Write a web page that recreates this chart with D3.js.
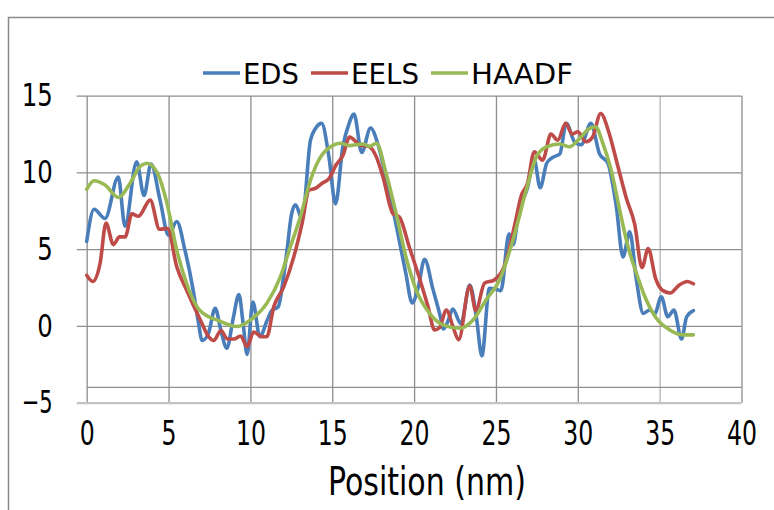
<!DOCTYPE html>
<html>
<head>
<meta charset="utf-8">
<script src="https://cdn.jsdelivr.net/npm/d3@7"></script>
<style>
  html, body { margin: 0; padding: 0; background: #fff; }
  svg { display: block; }
  .tick text { font-family: "Liberation Sans Narrow", "DejaVu Sans Condensed", sans-serif; fill: #000; }
</style>
</head>
<body>
<svg id="chart" width="774" height="510"></svg>
<script>
// x ticks / y ticks
const xTicks = [0, 5, 10, 15, 20, 25, 30, 35, 40];
const yTicks = [-5, 0, 5, 10, 15];

// EDS (blue)
const edsX = [0, 0.45, 1.12, 1.93, 2.34, 3.05, 3.5, 3.93, 4.48, 5.0, 5.5, 6.0, 6.5, 6.8, 7.05, 7.43, 7.85, 8.2, 8.56, 8.95, 9.3, 9.55, 9.8, 10.15, 10.58, 11.0, 11.3, 11.7, 12.0, 12.24, 12.5, 12.75, 13.16, 13.67, 14.0, 14.35, 14.8, 15.2, 15.65, 16.0, 16.33, 16.8, 17.34, 17.8, 18.3, 18.9, 19.5, 19.88, 20.25, 20.64, 21.15, 21.56, 21.8, 22.1, 22.36, 22.86, 23.4, 23.8, 24.14, 24.6, 25.0, 25.3, 25.8, 26.05, 26.4, 26.9, 27.34, 27.7, 28.1, 28.5, 28.9, 29.3, 29.8, 30.2, 30.8, 31.33, 31.84, 32.35, 32.76, 33.17, 33.58, 34.0, 34.4, 34.7, 35.1, 35.5, 35.87, 36.34, 36.65, 37.06];
const edsY = [5.5, 7.6, 7.0, 9.7, 6.5, 10.7, 8.5, 10.55, 8.2, 5.9, 6.8, 4.95, 2.35, 0.4, -0.95, -0.5, 1.15, -0.3, -1.45, 0.5, 2.05, 0.2, -1.85, 1.55, -0.7, 0.3, 1.0, 1.25, 3.0, 4.95, 7.2, 7.9, 7.0, 12.1, 12.9, 13.2, 11.0, 7.95, 11.7, 13.1, 13.8, 11.3, 12.9, 11.8, 9.6, 6.6, 3.4, 1.5, 2.5, 4.35, 2.4, 0.8, -0.2, 0.4, 1.1, 0.15, 2.67, 0.6, -1.95, 2.45, 2.4, 2.3, 6.0, 5.3, 7.5, 8.9, 10.8, 9.0, 10.6, 11.0, 11.2, 13.2, 12.0, 11.8, 13.2, 11.2, 10.6, 7.8, 4.5, 6.14, 3.0, 0.82, 1.04, 0.8, 1.9, 0.6, 1.04, -0.85, 0.6, 1.0];

// EELS (red)
const eelsX = [0, 0.37, 0.82, 1.18, 1.63, 2.0, 2.35, 2.76, 3.16, 3.88, 4.45, 4.94, 5.5, 6.1, 6.94, 7.45, 7.76, 8.2, 8.6, 9.0, 9.4, 9.8, 10.2, 10.7, 11.0, 11.43, 12.04, 12.65, 13.16, 13.58, 13.97, 14.38, 14.8, 15.24, 15.65, 16.06, 16.67, 17.28, 17.7, 18.1, 18.7, 19.1, 19.7, 20.3, 20.85, 21.25, 21.56, 21.97, 22.37, 22.72, 23.4, 23.77, 24.3, 24.9, 25.5, 26.15, 26.55, 26.93, 27.34, 27.85, 28.36, 28.77, 29.26, 29.65, 30.0, 30.5, 30.9, 31.4, 31.9, 32.4, 32.97, 33.48, 33.92, 34.3, 34.75, 35.2, 35.65, 36.2, 36.7, 37.06];
const eelsY = [3.3, 2.9, 4.1, 6.7, 5.3, 5.8, 5.8, 7.3, 7.15, 8.2, 6.3, 6.35, 3.86, 2.34, 0.39, -0.7, -0.95, -0.3, -0.85, -0.85, -0.65, -1.35, -0.4, -0.7, -0.7, 1.26, 2.56, 4.5, 6.7, 8.85, 8.96, 9.3, 9.6, 10.5, 11.1, 12.3, 11.8, 11.67, 11.0, 9.7, 7.33, 7.1, 5.16, 3.2, 1.26, -0.26, -0.1, 1.04, -0.04, -0.9, 2.6, 1.0, 2.78, 3.0, 3.86, 6.6, 8.5, 9.3, 11.35, 10.8, 12.5, 12.1, 13.2, 12.5, 12.65, 12.0, 12.3, 13.84, 12.6, 10.6, 8.3, 6.6, 3.8, 5.05, 3.1, 2.3, 2.15, 2.67, 2.9, 2.75];

// HAADF (green)
const haadfX = [0, 0.45, 1.12, 1.94, 2.65, 3.27, 3.67, 4.3, 4.9, 5.5, 6.1, 6.73, 7.45, 7.96, 9.19, 10.0, 11.0, 11.83, 12.44, 13.05, 13.67, 14.28, 14.9, 15.5, 16.06, 16.87, 17.28, 17.7, 18.3, 18.9, 19.5, 20.13, 20.95, 21.76, 22.78, 23.6, 24.4, 25.22, 26.04, 26.85, 27.46, 28.08, 28.9, 29.49, 30.1, 30.7, 31.08, 31.53, 32.04, 32.56, 33.07, 33.58, 34.1, 34.8, 35.62, 36.44, 37.06];
const haadfY = [8.9, 9.46, 9.18, 8.37, 9.3, 10.4, 10.6, 10.0, 8.0, 4.95, 2.78, 1.26, 0.6, 0.39, -0.04, 0.39, 1.47, 3.2, 5.16, 7.1, 9.5, 11.0, 11.67, 11.9, 11.75, 11.85, 11.7, 11.9, 9.9, 7.33, 4.5, 2.34, 0.82, 0.07, -0.15, 0.39, 1.7, 3.0, 5.6, 8.85, 11.0, 11.67, 11.85, 11.67, 12.2, 12.86, 12.97, 11.9, 10.15, 7.55, 5.16, 3.43, 1.9, 0.5, -0.26, -0.58, -0.58];

const series = [
  { name: "EDS", xs: edsX, ys: edsY, color: "#4a7ebb" },
  { name: "EELS", xs: eelsX, ys: eelsY, color: "#be4b48" },
  { name: "HAADF", xs: haadfX, ys: haadfY, color: "#98b954" }
];

const FONT = "'Liberation Sans Narrow', 'DejaVu Sans Condensed', sans-serif";
const svg = d3.select("#chart");

// chart area border (runs off the right and bottom edges)
svg.append("rect").attr("x", 8.5).attr("y", 17.5).attr("width", 800).attr("height", 520)
  .attr("fill", "none").attr("stroke", "#8a8a8a").attr("stroke-width", 1.5);

const x = d3.scaleLinear().domain([0, 40]).range([86.7, 741.5]);
const y = d3.scaleLinear().domain([-5, 15]).range([402.7, 95.7]);

// vertical grid + x labels
const xAxis = svg.append("g").attr("transform", `translate(0,${y(-5)})`)
  .call(d3.axisBottom(x).tickValues(xTicks).tickSize(-(y(-5) - y(15))).tickSizeOuter(0).tickPadding(19));
xAxis.select(".domain").remove();
xAxis.selectAll(".tick line").attr("stroke", d => d >= 35 ? "#b4b4b4" : "#8e8e8e").attr("stroke-width", d => d == 40 ? 2 : 1.3);
xAxis.selectAll(".tick text").attr("font-size", 33).attr("dy", "0.72em")
  .attr("textLength", d => String(d).length * 15).attr("lengthAdjust", "spacingAndGlyphs");

// horizontal grid + y labels
const yAxis = svg.append("g").attr("transform", `translate(${x(0)},0)`)
  .call(d3.axisLeft(y).tickValues(yTicks).tickSize(10).tickSizeOuter(0).tickPadding(24)
    .tickFormat(d => d < 0 ? "\u2212" + Math.abs(d) : d));
yAxis.select(".domain").remove();
yAxis.selectAll(".tick line")
  .attr("x2", x(40) - x(0)).attr("x1", -10)
  .attr("stroke", d => d == -5 ? "#c4c4c4" : "#8e8e8e")
  .attr("stroke-width", d => d == -5 ? 2.2 : 1.3);
yAxis.selectAll(".tick text").attr("font-size", 32)
  .attr("textLength", d => d < 0 ? 31 : String(d).length * 15.5).attr("lengthAdjust", "spacingAndGlyphs");

// extra grid line just above the axis
svg.append("line").attr("x1", x(0)).attr("x2", x(40)).attr("y1", y(-4)).attr("y2", y(-4))
  .attr("stroke", "#8e8e8e").attr("stroke-width", 1.3);

// series
const line = d3.line().x(d => x(d[0])).y(d => y(d[1])).curve(d3.curveMonotoneX);
series.forEach(s => {
  const pts = s.xs.map((v, i) => [v, s.ys[i]]);
  svg.append("path").datum(pts).attr("d", line)
    .attr("fill", "none").attr("stroke", s.color).attr("stroke-width", 3.6)
    .attr("stroke-linejoin", "round").attr("stroke-linecap", "round");
});

// legend
const legendPos = [203, 311, 431];
const legendW = [56, 68, 102];
const lg = svg.append("g");
series.forEach((s, i) => {
  const lx = legendPos[i];
  lg.append("line").attr("x1", lx).attr("x2", lx + 37).attr("y1", 73).attr("y2", 73)
    .attr("stroke", s.color).attr("stroke-width", 3.6);
  lg.append("text").attr("x", lx + 40).attr("y", 84).text(s.name)
    .attr("font-family", FONT).attr("font-size", 29)
    .attr("textLength", legendW[i]).attr("lengthAdjust", "spacingAndGlyphs");
});

// axis title
svg.append("text").attr("x", 427).attr("y", 495).attr("text-anchor", "middle")
  .attr("font-family", FONT).attr("font-size", 39)
  .attr("textLength", 198).attr("lengthAdjust", "spacingAndGlyphs")
  .text("Position (nm)");
</script>
</body>
</html>
